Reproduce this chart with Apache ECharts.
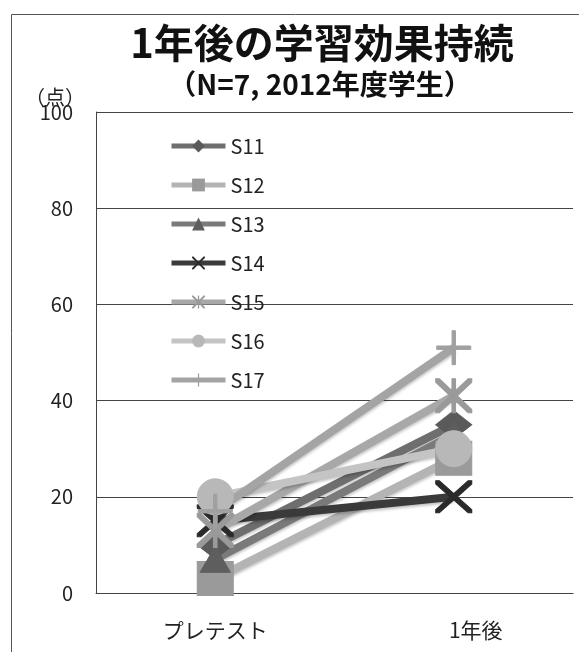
<!DOCTYPE html>
<html>
<head>
<meta charset="utf-8">
<script src="https://cdn.jsdelivr.net/npm/echarts@6/dist/echarts.min.js"></script>
<style>
    html, body { margin: 0; padding: 0; background: #fff; }
    #mainChart { width: 579px; height: 652px; }
</style>
</head>
<body>
<div id="mainChart"></div>
<script>
// categories / ticks
var categories = ['プレテスト', '1年後'];
var yTicks = [0, 20, 40, 60, 80, 100];

// values (pre test, one year later)
var s11 = [10, 35];
var s12 = [3, 28];
var s13 = [7, 33];
var s14 = [15, 20];
var s15 = [13, 41];
var s16 = [20, 30];
var s17 = [17, 51];

var font = '"Noto Sans CJK JP", "Noto Sans", sans-serif';

// marker shapes that echarts does not have built in
var xPath = 'path://M0,0 L2,0 L10,8 L18,0 L20,0 L20,2 L12,10 L20,18 L20,20 L18,20 L10,12 L2,20 L0,20 L0,18 L8,10 L0,2 Z';
var starPath = 'path://M0,0 L2,0 L9,7 L9,0 L11,0 L11,7 L18,0 L20,0 L20,2 L12,10 L20,18 L20,20 L18,20 L11,13 L11,20 L9,20 L9,13 L2,20 L0,20 L0,18 L8,10 L0,2 Z';
var plusPath = 'path://M9,0 L11,0 L11,9 L20,9 L20,11 L11,11 L11,20 L9,20 L9,11 L0,11 L0,9 L9,9 Z';

function makeSeries(name, data, color, markColor, symbol, size)
{
    return {
        name: name,
        type: 'line',
        data: data,
        symbol: symbol,
        symbolSize: size,
        lineStyle: {
            width: 8,
            color: color,
            shadowColor: 'rgba(0,0,0,0.25)',
            shadowBlur: 3,
            shadowOffsetY: 2
        },
        itemStyle: {
            color: markColor,
            borderColor: markColor
        },
        emphasis: { disabled: true }
    };
}

var chartDom = document.getElementById('mainChart');
var myChart = echarts.init(chartDom, null, { renderer: 'canvas' });

var option = {
    animation: false,
    title: [
        {
            text: '1年後の学習効果持続',
            left: 317,
            textAlign: 'center',
            top: 18,
            textStyle: { fontFamily: font, fontSize: 40, fontWeight: 'bold', color: '#111' }
        },
        {
            text: '（N=7, 2012年度学生）',
            left: 315,
            textAlign: 'center',
            top: 65,
            textStyle: { fontFamily: font, fontSize: 28, fontWeight: 'bold', color: '#111' }
        },
        {
            text: '（点）',
            left: 20,
            top: 82,
            textStyle: { fontFamily: font, fontSize: 20, fontWeight: 'normal', color: '#222' }
        }
    ],
    legend: {
        orient: 'vertical',
        left: 164,
        top: 131,
        itemWidth: 54,
        itemHeight: 16,
        itemGap: 19,
        lineStyle: { width: 5 },
        textStyle: { fontFamily: font, fontSize: 20, color: '#222' },
        data: ['S11', 'S12', 'S13', 'S14', 'S15', 'S16', 'S17']
    },
    grid: {
        left: 96,
        top: 112,
        right: 6,
        bottom: 59
    },
    xAxis: {
        type: 'category',
        boundaryGap: true,
        data: [
            categories[0],
            { value: categories[1], textStyle: { padding: [0, 0, 0, 44] } }
        ],
        axisLine: { show: true, lineStyle: { color: '#444', width: 1 } },
        axisTick: { show: false },
        axisLabel: { fontFamily: font, fontSize: 21, color: '#222', margin: 27 }
    },
    yAxis: {
        type: 'value',
        min: yTicks[0],
        max: yTicks[yTicks.length - 1],
        interval: 20,
        axisLine: { show: true, lineStyle: { color: '#444', width: 1 } },
        axisTick: { show: false },
        axisLabel: { fontFamily: font, fontSize: 20, color: '#222', margin: 23, padding: [4, 0, 0, 0] },
        splitLine: { show: true, lineStyle: { color: '#444', width: 1 } }
    },
    series: [
        makeSeries('S11', s11, '#6e6e6e', '#5a5a5a', 'diamond', [36, 28]),
        makeSeries('S12', s12, '#b4b4b4', '#9a9a9a', 'rect', [36, 34]),
        makeSeries('S13', s13, '#7a7a7a', '#5e5e5e', 'triangle', [30, 26]),
        makeSeries('S14', s14, '#3a3a3a', '#2a2a2a', xPath, [36, 32]),
        makeSeries('S15', s15, '#a8a8a8', '#9a9a9a', starPath, [36, 34]),
        makeSeries('S16', s16, '#c4c4c4', '#b8b8b8', 'circle', 36),
        makeSeries('S17', s17, '#a4a4a4', '#a0a0a0', plusPath, [34, 34])
    ],
    graphic: [
        {
            type: 'rect',
            left: 9,
            top: 12,
            shape: { width: 568, height: 700 },
            style: { fill: null, stroke: '#555', lineWidth: 1 },
            silent: true
        }
    ]
};

myChart.setOption(option);
window.addEventListener('resize', myChart.resize);
</script>
</body>
</html>
